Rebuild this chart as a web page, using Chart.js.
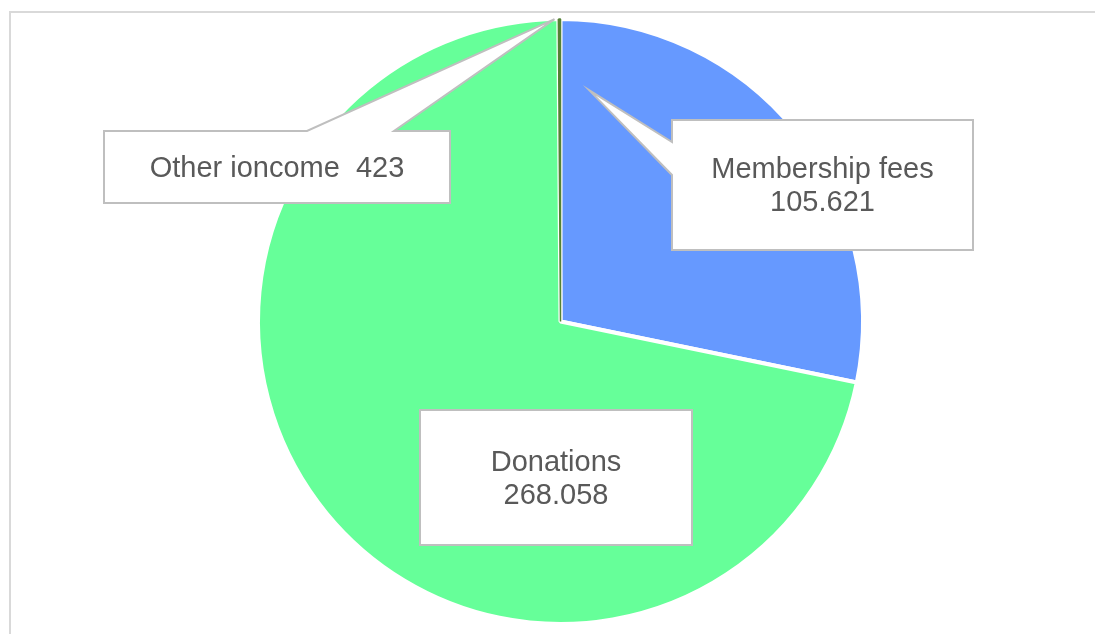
<!DOCTYPE html>
<html>
<head>
<meta charset="utf-8">
<script src="https://cdn.jsdelivr.net/npm/chart.js"></script>
<style>
  html, body { margin: 0; padding: 0; background: #fff; }
  #wrap { width: 1095px; height: 634px; }
</style>
</head>
<body>
<div id="wrap"><canvas id="myChart"></canvas></div>
<script>
const categories = ['Membership fees', 'Donations', 'Other ioncome'];
const values = [105621, 268058, 423];
const colors = ['#6699FF', '#66FF99', '#548235'];

function fmt(v) {
  return v.toLocaleString('de-DE');
}

// callout boxes: box in px, tip given as angle inside slice (0..1) and radius fraction
const callouts = [
  { box: [672, 120, 301, 130], lines: 2, tip: { frac: 0.07, r: 0.77 }, gap: ['left', 142, 175] },
  { box: [420, 410, 272, 135], lines: 2, tip: null },
  { box: [104, 131, 346, 72], lines: 1, tip: { frac: -1.8, r: 1.0 }, gap: ['top', 307, 394] }
];

const border = {
  id: 'border',
  beforeDraw(chart) {
    const c = chart.ctx;
    c.save();
    c.strokeStyle = '#D9D9D9';
    c.lineWidth = 2;
    c.strokeRect(10, 12, 1200, 700);
    c.restore();
  }
};

const labelBoxes = {
  id: 'labelBoxes',
  afterDatasetsDraw(chart) {
    const c = chart.ctx;
    const arcs = chart.getDatasetMeta(0).data;
    c.save();
    callouts.forEach((co, i) => {
      const a = arcs[i];
      const [x, y, w, h] = co.box;
      c.beginPath();
      if (co.tip) {
        const ang = a.startAngle + (a.endAngle - a.startAngle) * co.tip.frac;
        const tx = a.x + Math.cos(ang) * a.outerRadius * co.tip.r;
        const ty = a.y + Math.sin(ang) * a.outerRadius * co.tip.r;
        if (co.gap[0] === 'top') {
          c.moveTo(x, y);
          c.lineTo(co.gap[1], y);
          c.lineTo(tx, ty);
          c.lineTo(co.gap[2], y);
          c.lineTo(x + w, y);
          c.lineTo(x + w, y + h);
          c.lineTo(x, y + h);
          c.closePath();
        } else {
          c.moveTo(x, y);
          c.lineTo(x + w, y);
          c.lineTo(x + w, y + h);
          c.lineTo(x, y + h);
          c.lineTo(x, co.gap[2]);
          c.lineTo(tx, ty);
          c.lineTo(x, co.gap[1]);
          c.closePath();
        }
      } else {
        c.rect(x, y, w, h);
      }
      c.fillStyle = '#FFFFFF';
      c.fill();
      c.strokeStyle = '#BFBFBF';
      c.lineWidth = 2;
      c.stroke();

      c.fillStyle = '#595959';
      c.font = '29px "Liberation Sans", Arial, sans-serif';
      c.textAlign = 'center';
      c.textBaseline = 'middle';
      const cx = x + w / 2, cy = y + h / 2;
      if (co.lines === 2) {
        c.fillText(categories[i], cx, cy - 15);
        c.fillText(fmt(values[i]), cx, cy + 18);
      } else {
        c.fillText(categories[i] + '  ' + fmt(values[i]), cx, cy + 2);
      }
    });
    c.restore();
  }
};

const ctx = document.getElementById('myChart');

new Chart(ctx, {
  type: 'pie',
  data: {
    labels: categories,
    datasets: [{
      data: values,
      backgroundColor: colors,
      borderColor: ['#FFFFFF', '#FFFFFF', '#548235'],
      borderWidth: [4, 4, 1.5]
    }]
  },
  options: {
    responsive: true,
    maintainAspectRatio: false,
    animation: false,
    layout: { padding: { top: 17, bottom: 8, left: 256, right: 230 } },
    plugins: {
      legend: { display: false },
      tooltip: { enabled: false }
    }
  },
  plugins: [border, labelBoxes]
});
</script>
</body>
</html>
